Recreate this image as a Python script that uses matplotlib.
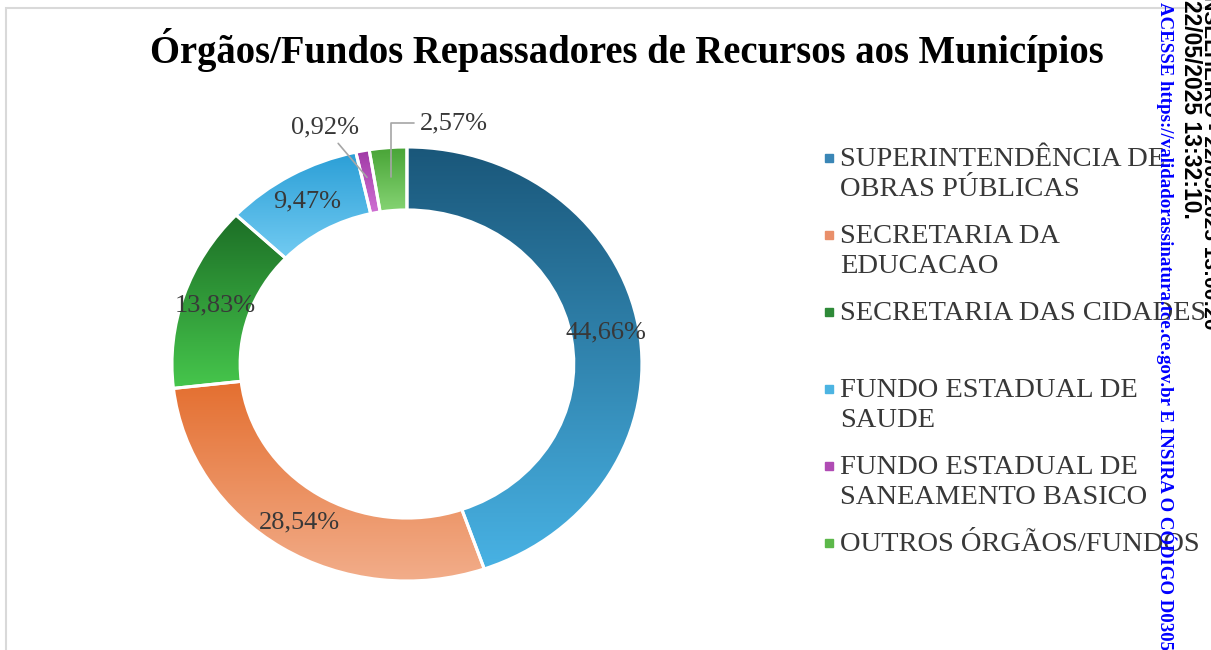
import numpy as np
import matplotlib.pyplot as plt
from matplotlib.colors import LinearSegmentedColormap
from matplotlib.patches import Rectangle

# dados do gráfico
orgaos = [
    "SUPERINTENDÊNCIA DE\nOBRAS PÚBLICAS",
    "SECRETARIA DA\nEDUCACAO",
    "SECRETARIA DAS CIDADES",
    "FUNDO ESTADUAL DE\nSAUDE",
    "FUNDO ESTADUAL DE\nSANEAMENTO BASICO",
    "OUTROS ÓRGÃOS/FUNDOS",
]
percentuais = [44.66, 28.54, 13.83, 9.47, 0.92, 2.57]
rotulos = ["44,66%", "28,54%", "13,83%", "9,47%", "0,92%", "2,57%"]

# cores (topo -> base do gradiente) e cor do marcador da legenda
cor_topo = ["#1a577a", "#e46f30", "#1c6e26", "#2a9ed6", "#a03aa6", "#48a436"]
cor_base = ["#48b2e4", "#f2ad8a", "#46c64c", "#72cbf2", "#d070d4", "#86d474"]
cor_legenda = ["#3a86b6", "#e98f6a", "#2e8a38", "#4cb4e2", "#b04cb4", "#5cb84a"]

titulo = "Órgãos/Fundos Repassadores de Recursos aos Municípios"

serif = "Liberation Serif"
cinza = "#383838"

fig = plt.figure(figsize=(12.11, 6.5), dpi=100)
fig.patch.set_facecolor("white")

# moldura cinza clara do gráfico
fig.patches.append(Rectangle((6 / 1211, -0.1), 1.2, 1.1 - 8 / 650,
                             transform=fig.transFigure, fill=False,
                             edgecolor="#d9d9d9", linewidth=1.5))

ax = fig.add_axes([0.0935, 0.0227, 0.4851, 0.8346])
wedges, _ = ax.pie(percentuais, startangle=90, counterclock=False,
                   radius=1.0,
                   wedgeprops=dict(width=0.29, edgecolor="white", linewidth=2.2))

# preenchimento em gradiente vertical
grad = np.linspace(0, 1, 256).reshape(-1, 1)
for w, c0, c1 in zip(wedges, cor_topo, cor_base):
    ext = w.get_path().get_extents()
    cmap = LinearSegmentedColormap.from_list("g", [c0, c1])
    ax.imshow(grad, extent=[ext.x0, ext.x1, ext.y0, ext.y1], origin="upper",
              cmap=cmap, aspect="auto", clip_path=w, zorder=1.5,
              interpolation="bilinear")
    w.set_facecolor("none")
    w.set_zorder(3)

ax.set_aspect("auto")
ax.set_xlim(-1.25, 1.25)
ax.set_ylim(-1.25, 1.25)
ax.axis("off")

# rótulos de dados
for i, w in enumerate(wedges[:4]):
    ang = np.deg2rad((w.theta1 + w.theta2) / 2)
    r = 0.86
    ax.text(r * np.cos(ang), r * np.sin(ang), rotulos[i], ha="center",
            va="center", fontsize=19, family=serif, color=cinza, zorder=4)

# rótulos externos com linha de chamada
ax.annotate(rotulos[4], xy=(-0.17, 0.86), xytext=(-0.35, 1.09),
            ha="center", va="center", fontsize=19, family=serif, color=cinza,
            arrowprops=dict(arrowstyle="-", color="#a6a6a6", lw=1.2,
                            shrinkA=2, shrinkB=0), zorder=4)
ax.annotate(rotulos[5], xy=(-0.07, 0.86), xytext=(0.2, 1.11),
            ha="center", va="center", fontsize=19, family=serif, color=cinza,
            arrowprops=dict(arrowstyle="-", color="#a6a6a6", lw=1.2,
                            shrinkA=2, shrinkB=0,
                            connectionstyle="angle,angleA=0,angleB=90,rad=0"),
            zorder=4)

# título
fig.text(627 / 1211, 1 - 50 / 650, titulo, ha="center", va="center",
         fontsize=27.8, fontweight="bold", family=serif, color="black")

# legenda
y0 = 158
passo = 77
for i, (nome, cor) in enumerate(zip(orgaos, cor_legenda)):
    y = 1 - (y0 + i * passo) / 650
    fig.patches.append(Rectangle((825 / 1211, y - 4 / 650), 8 / 1211, 8 / 650,
                                 transform=fig.transFigure, color=cor))
    fig.text(840 / 1211, y + 11 / 650, nome, ha="left", va="top",
             fontsize=20.5, family=serif, color=cinza, linespacing=1.27)

# carimbo de assinatura na borda direita
fig.text(1210 / 1211, 1 - 330 / 650, "CONSELHEIRO - 22/05/2025 13:00:20",
         rotation=-90, rotation_mode="anchor", ha="right", va="center",
         fontsize=15, fontweight="bold", family="Liberation Sans",
         color="black")
fig.text(1191 / 1211, 1.0, "22/05/2025 13:32:10.",
         rotation=-90, rotation_mode="anchor", ha="left", va="center",
         fontsize=16.5, fontweight="bold", family="Liberation Sans",
         color="black")
fig.text(1166 / 1211, 1 - 2 / 650,
         "ACESSE https://validadorassinatura.tce.ce.gov.br E INSIRA O CÓDIGO D030591",
         rotation=-90, rotation_mode="anchor", ha="left", va="center",
         fontsize=13.6, fontweight="bold", family=serif, color="#0000ff")

fig.savefig("out.png", dpi=100)
